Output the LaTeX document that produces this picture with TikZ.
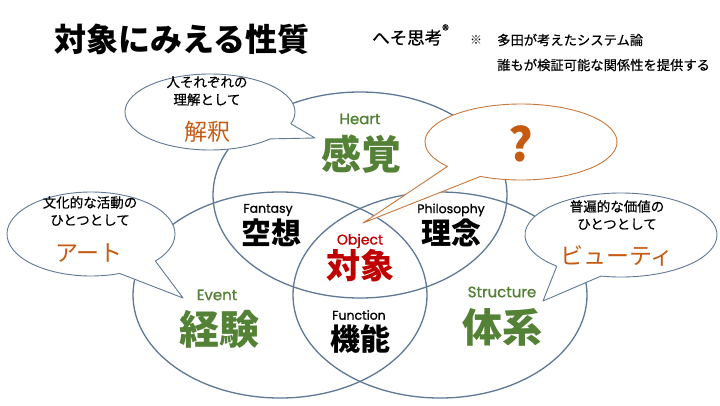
\documentclass[tikz,border=0pt]{standalone}
\usepackage{fontspec}
\newfontfamily\jp{Noto Sans CJK JP}
\newfontfamily\jpm{Noto Sans CJK JP}[FakeBold=0.5]
\newfontfamily\lat{Poppins}[FakeBold=1]
\definecolor{vennline}{RGB}{96,120,150}
\definecolor{lblgreen}{RGB}{83,129,53}
\definecolor{lblred}{RGB}{192,0,0}
\definecolor{lblorange}{RGB}{197,90,17}
\definecolor{qline}{RGB}{200,120,60}
\tikzset{
  venn/.style={draw=vennline,line width=1.3pt},
  bubble/.style={draw=vennline,line width=0.9pt,fill=white,line join=round},
  qbubble/.style={draw=qline,line width=0.9pt,fill=white,line join=round},
  eng/.style={font=\lat\fontsize{12.5}{14}\selectfont,inner sep=0pt},
  engbig/.style={font=\lat\fontsize{15}{17}\selectfont,inner sep=0pt,text=lblgreen},
  bigkanji/.style={font=\jp\bfseries\fontsize{40}{44}\selectfont,inner sep=0pt,text=lblgreen},
  midkanji/.style={font=\jp\bfseries\fontsize{30}{34}\selectfont,inner sep=0pt},
  note/.style={font=\jpm\fontsize{13.5}{17.5}\selectfont,align=center,inner sep=0pt},
  keyword/.style={font=\jp\fontsize{23}{26}\selectfont,inner sep=0pt,text=lblorange},
}
\begin{document}
\begin{tikzpicture}[x=1pt,y=-1pt]
\useasboundingbox (0,0) rectangle (720,405);
\fill[white] (0,0) rectangle (720,405);

% Venn ellipses
\draw[venn] (360,195) ellipse[x radius=147pt,y radius=103pt];
\draw[venn] (280,295) ellipse[x radius=147pt,y radius=103pt];
\draw[venn] (440,295) ellipse[x radius=147pt,y radius=103pt];

% speech bubbles
\path[bubble] (210,112) ++(-18:85pt and 38pt)
  arc[start angle=-18,end angle=315,x radius=85pt,y radius=38pt] -- (315,138) -- cycle;
\path[bubble] (91,234) ++(-40:84pt and 42pt)
  arc[start angle=-40,end angle=290,x radius=84pt,y radius=42pt] -- (183,298) -- cycle;
\path[bubble] (621,235) ++(258:96pt and 42pt)
  arc[start angle=258,end angle=588,x radius=96pt,y radius=42pt] -- (543,301) -- cycle;
\path[qbubble] (521,142) ++(245:96pt and 38pt)
  arc[start angle=245,end angle=580,x radius=96pt,y radius=38pt] -- (363,223) -- cycle;

% title and header
\node[font=\jp\bfseries\fontsize{32}{36}\selectfont,inner sep=0pt] (title) at (182,39) {対象にみえる性質};
\node[font=\jpm\fontsize{17.5}{20}\selectfont,inner sep=0pt,anchor=west] (heso) at (372,35) {へそ思考\raisebox{0.5em}{\fontsize{14}{15}\selectfont ®}};
\node[font=\jp\fontsize{12}{14}\selectfont,inner sep=0pt] (kome) at (476,40) {※};
\node[font=\jpm\fontsize{13.3}{15}\selectfont,inner sep=0pt,anchor=west] (sys1) at (497,40) {多田が考えたシステム論};
\node[font=\jpm\fontsize{13.3}{15}\selectfont,inner sep=0pt,anchor=west] (sys2) at (497,65) {誰もが検証可能な関係性を提供する};

% bubble texts
\node[note] (n1) at (207,91) {人それぞれの\\理解として};
\node[keyword] (k1) at (207,132) {解釈};
\node[note] (n2) at (90,211) {文化的な活動の\\ひとつとして};
\node[keyword] (k2) at (89,253) {アート};
\node[note] (n3) at (617,215) {普遍的な価値の\\ひとつとして};
\node[keyword] (k3) at (617,256) {ビューティ};
\node[font=\jp\bfseries\fontsize{46}{50}\selectfont,inner sep=0pt,text=lblorange] (q) at (521,144) {?};

% circle labels
\node[engbig] (heart) at (360,119) {Heart};
\node[bigkanji] (kankaku) at (361,154) {感覚};
\node[eng] (fantasy) at (268,210) {Fantasy};
\node[midkanji] (kuso) at (271,233) {空想};
\node[eng] (philo) at (451,210) {Philosophy};
\node[midkanji] (rinen) at (451,233) {理念};
\node[eng,font=\lat\fontsize{14}{16}\selectfont,text=lblred] (object) at (360,241) {Object};
\node[midkanji,font=\jp\bfseries\fontsize{34}{38}\selectfont,text=lblred] (taisho) at (360,266) {対象};
\node[engbig] (event) at (217,295) {Event};
\node[bigkanji] (keiken) at (219,329) {経験};
\node[engbig] (structure) at (502,292) {Structure};
\node[bigkanji] (taikei) at (502,327) {体系};
\node[eng] (function) at (359,315) {Function};
\node[midkanji] (kino) at (360,339) {機能};
\end{tikzpicture}
\end{document}
